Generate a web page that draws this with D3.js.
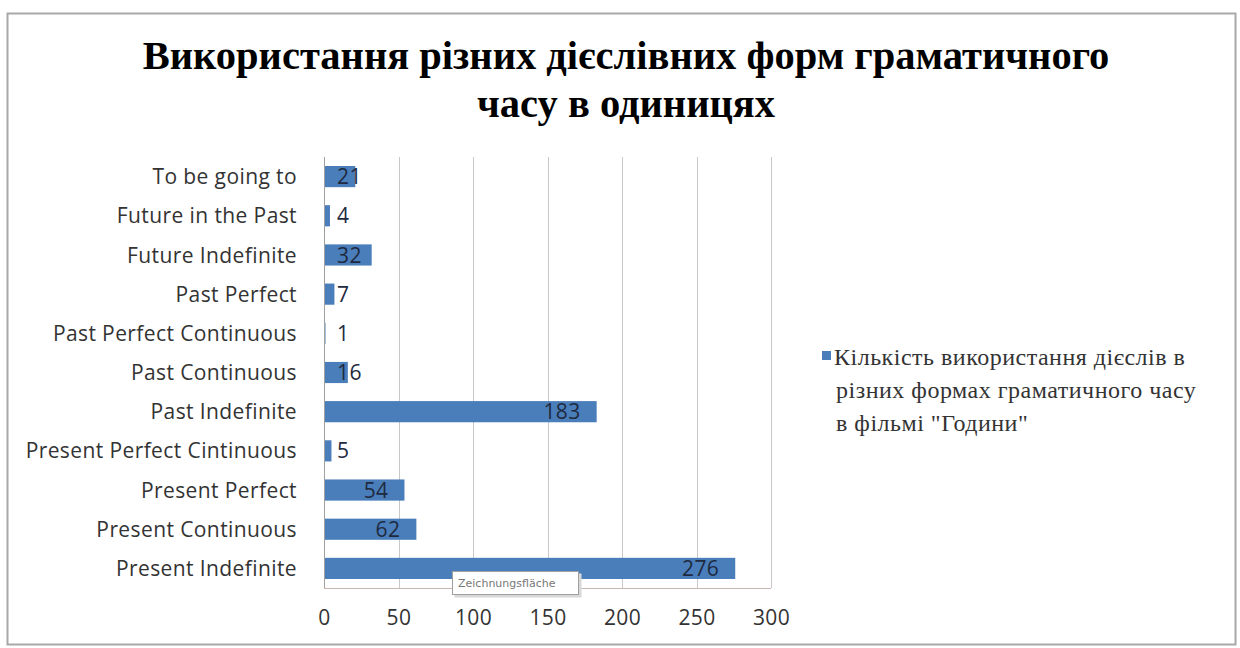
<!DOCTYPE html>
<meta charset="utf-8">
<style>
    body { margin: 0; background: #fff; }
    .title { font: bold 40.5px "Liberation Serif", serif; fill: #000; }
    .cat text { font: 21px "Open Sans", sans-serif; letter-spacing: 0.4px; fill: #333; }
    .xaxis text { font: 21px "Open Sans", sans-serif; letter-spacing: 0.4px; fill: #333; }
    .lbl { font: 21px "Open Sans", sans-serif; letter-spacing: 0.4px; fill: #1e2a40; }
    .legend text { font: 24px "Liberation Serif", serif; letter-spacing: 0.5px; fill: #333; }
    .grid line { stroke: #c8c8c8; stroke-width: 1; }
    .tip text { font: 11px "DejaVu Sans", sans-serif; fill: #777; }
</style>
<body>
<script src="https://cdn.jsdelivr.net/npm/d3@7"></script>
<script>

    var categories = ["To be going to", "Future in the Past", "Future Indefinite", "Past Perfect",
        "Past Perfect Continuous", "Past Continuous", "Past Indefinite", "Present Perfect Cintinuous",
        "Present Perfect", "Present Continuous", "Present Indefinite"];
    var values = [21, 4, 32, 7, 1, 16, 183, 5, 54, 62, 276];
    var xTicks = [0, 50, 100, 150, 200, 250, 300];
    var titleLines = ["Використання різних дієслівних форм граматичного", "часу в одиницях"];
    var legendLines = ["Кількість використання дієслів в", "різних формах граматичного часу", "в фільмі \"Години\""];

    var W = 1240, H = 648;
    var plot = {left: 324, right: 771, top: 157, bottom: 588};

    var svg = d3.select("body").append("svg")
            .attr("width", W)
            .attr("height", H);

    // chart frame
    svg.append("rect")
            .attr("x", 7.5).attr("y", 13.5)
            .attr("width", 1228).attr("height", 631)
            .attr("fill", "#fff")
            .attr("stroke", "#a8a8a8")
            .attr("stroke-width", 2);

    var x = d3.scaleLinear()
            .domain([0, 300])
            .range([plot.left, plot.right]);

    var y = d3.scaleBand()
            .domain(categories)
            .range([plot.top, plot.bottom])
            .paddingInner(0.46)
            .paddingOuter(0.23);

    // title
    svg.selectAll("text.title")
            .data(titleLines)
        .enter().append("text")
            .attr("class", "title")
            .attr("x", 626)
            .attr("y", function(d, i) { return 69 + i * 48; })
            .attr("text-anchor", "middle")
            .text(function(d) { return d; });

    // gridlines
    svg.append("g")
            .attr("class", "grid")
        .selectAll("line")
            .data(xTicks.slice(1))
        .enter().append("line")
            .attr("x1", function(d) { return Math.round(x(d)) + 0.5; })
            .attr("x2", function(d) { return Math.round(x(d)) + 0.5; })
            .attr("y1", plot.top)
            .attr("y2", plot.bottom);

    // bars
    svg.append("g")
        .selectAll("rect")
            .data(values)
        .enter().append("rect")
            .attr("x", x(0))
            .attr("y", function(d, i) { return y(categories[i]); })
            .attr("width", function(d) { return x(d) - x(0); })
            .attr("height", y.bandwidth())
            .attr("fill", "#4a7ebb");

    // axis lines
    svg.append("line")
            .attr("x1", x(0) + 0.5).attr("x2", x(0) + 0.5)
            .attr("y1", plot.top).attr("y2", plot.bottom)
            .attr("stroke", "#a0a0a0");
    svg.append("line")
            .attr("x1", x(0)).attr("x2", plot.right)
            .attr("y1", plot.bottom + 0.5).attr("y2", plot.bottom + 0.5)
            .attr("stroke", "#c8b8b0");

    // category labels
    var yAxis = d3.axisLeft(y).tickSize(0).tickPadding(27);
    svg.append("g")
            .attr("class", "cat")
            .attr("transform", "translate(" + x(0) + ",0)")
            .call(yAxis)
            .call(function(g) { g.select(".domain").remove(); })
        .selectAll("text")
            .attr("dy", "0.36em");

    // x tick labels
    var xAxis = d3.axisBottom(x).tickValues(xTicks).tickSize(0).tickPadding(22);
    svg.append("g")
            .attr("class", "xaxis")
            .attr("transform", "translate(0," + plot.bottom + ")")
            .call(xAxis)
            .call(function(g) { g.select(".domain").remove(); });

    // data labels
    var labels = svg.append("g")
        .selectAll("text")
            .data(values)
        .enter().append("text")
            .attr("class", "lbl")
            .attr("y", function(d, i) { return y(categories[i]) + y.bandwidth() / 2; })
            .attr("dy", "0.36em")
            .text(function(d) { return d; });
    labels.attr("x", function(d) {
        var w = this.getComputedTextLength();
        return Math.max(x(d) - 16 - w, x(0) + 13);
    });

    // legend
    var legend = svg.append("g").attr("class", "legend");
    legend.append("rect")
            .attr("x", 822).attr("y", 351)
            .attr("width", 9).attr("height", 9)
            .attr("fill", "#4a7ebb");
    legend.selectAll("text")
            .data(legendLines)
        .enter().append("text")
            .attr("x", function(d, i) { return i ? 836 : 834; })
            .attr("y", function(d, i) { return 365 + i * 33; })
            .text(function(d) { return d; });

    // plot area tooltip
    var tip = svg.append("g").attr("class", "tip");
    tip.append("rect")
            .attr("x", 454.5).attr("y", 573.5)
            .attr("width", 127).attr("height", 24)
            .attr("fill", "#d8d8d8");
    tip.append("rect")
            .attr("x", 452.5).attr("y", 571.5)
            .attr("width", 126).attr("height", 23)
            .attr("fill", "#fff")
            .attr("stroke", "#a0a0a0");
    tip.append("text")
            .attr("x", 458).attr("y", 587)
            .text("Zeichnungsfläche");

</script>
